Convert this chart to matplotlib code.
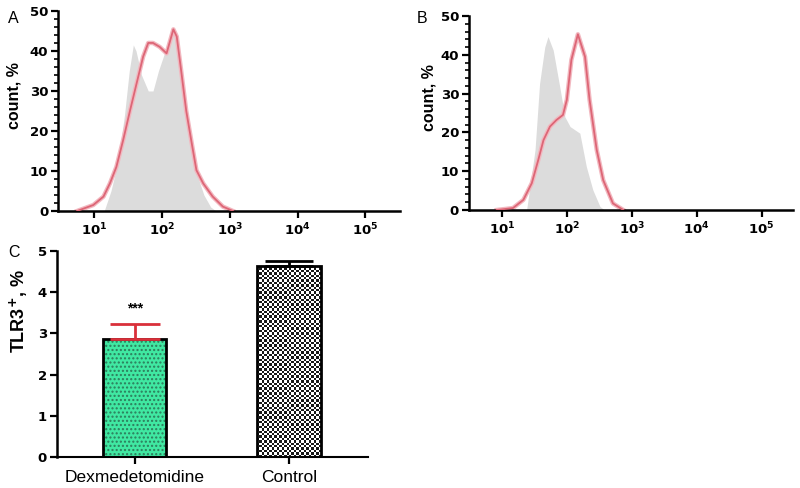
import numpy as np
import matplotlib
matplotlib.use("Agg")
import matplotlib.pyplot as plt
from matplotlib.ticker import MultipleLocator, NullLocator

plt.rcParams['font.family'] = ['Liberation Sans', 'DejaVu Sans']
plt.rcParams['mathtext.fontset'] = 'dejavusans'

# --- data (x as log10 of fluorescence) ---
a_red_log = [0.75, 0.99, 1.14, 1.235, 1.33, 1.43, 1.53, 1.63, 1.725, 1.80, 1.87, 1.97,
             2.07, 2.17, 2.22, 2.29, 2.36, 2.44, 2.51, 2.61, 2.75, 2.90, 3.05]
a_red_cnt = [0, 1.5, 3.6, 6.9, 11, 17.7, 25, 32, 38.6, 42, 42, 41,
             39.4, 45.4, 43.6, 34.4, 25, 17, 10.2, 6.9, 3.6, 1.1, 0]
a_gray_log = [1.15, 1.25, 1.35, 1.45, 1.52, 1.58, 1.62, 1.70, 1.80, 1.87, 1.95, 2.05,
              2.15, 2.20, 2.28, 2.36, 2.44, 2.52, 2.62, 2.72, 2.80]
a_gray_cnt = [0, 5, 12, 24, 35, 41.5, 40, 34, 30, 30, 35, 40,
              45, 44, 35, 25, 16, 9, 4, 1, 0]

b_red_log = [0.92, 1.17, 1.33, 1.46, 1.56, 1.64, 1.74, 1.84, 1.94, 2.00, 2.07, 2.17,
             2.28, 2.35, 2.46, 2.56, 2.71, 2.87]
b_red_cnt = [0, 0.5, 2.6, 6.9, 12.9, 18, 21.5, 23.2, 24.5, 28.4, 38.7, 45.3,
             39.5, 28.4, 15.5, 7.7, 1.7, 0]
b_gray_log = [1.38, 1.51, 1.58, 1.66, 1.71, 1.79, 1.89, 1.97, 2.05, 2.20, 2.30, 2.40, 2.51, 2.58]
b_gray_cnt = [0, 15.5, 32.6, 42, 44.7, 41.2, 31.8, 24, 21.5, 19.8, 11.2, 5.2, 0.9, 0]

groups = ['Dexmedetomidine', 'Control']
tlr3 = [2.87, 4.64]
tlr3_err = [0.35, 0.12]

decades = [1, 2, 3, 4, 5]

RED = '#dd6676'
GRAY = '#dcdcdc'
TICKFONT = dict(family='DejaVu Sans', weight='bold', size=9.5)

fig = plt.figure(figsize=(8, 4.88), dpi=100)


def style_hist(ax, xlim, label_xy):
    ax.set_xscale('log')
    ax.set_xlim(*xlim)
    ax.set_ylim(0, 50)
    ax.set_xticks([10.0 ** d for d in decades])
    ax.set_xticklabels([r'$\mathbf{10^{%d}}$' % d for d in decades], fontsize=9.5)
    ax.xaxis.set_minor_locator(NullLocator())
    ax.yaxis.set_major_locator(MultipleLocator(10))
    ax.yaxis.set_minor_locator(MultipleLocator(2))
    for lab in ax.get_yticklabels():
        lab.set_fontproperties(TICKFONT)
    ax.set_ylabel('count, %', fontsize=11.5, fontweight='bold')
    ax.yaxis.set_label_coords(*label_xy)
    for s in ['top', 'right']:
        ax.spines[s].set_visible(False)
    for s in ['left', 'bottom']:
        ax.spines[s].set_linewidth(1.8)
    ax.tick_params(which='major', length=5, width=1.6, pad=2)
    ax.tick_params(which='minor', length=3, width=1.2)
    ax.tick_params(axis='x', pad=3)


def draw_hist(ax, glog, gcnt, rlog, rcnt):
    gx = 10.0 ** np.array(glog)
    rx = 10.0 ** np.array(rlog)
    ax.fill_between(gx, 0, gcnt, color=GRAY, lw=0, zorder=1)
    ax.plot(rx, rcnt, color='#f2b8c0', lw=3.2, zorder=2, solid_joinstyle='round')
    ax.plot(rx, rcnt, color=RED, lw=1.3, zorder=3, solid_joinstyle='round')


axA = fig.add_axes([0.0725, 0.5676, 0.4275, 0.41])
draw_hist(axA, a_gray_log, a_gray_cnt, a_red_log, a_red_cnt)
style_hist(axA, (10 ** 0.47, 10 ** 5.51), (-0.108, 0.575))

axB = fig.add_axes([0.586, 0.5697, 0.405, 0.3975])
draw_hist(axB, b_gray_log, b_gray_cnt, b_red_log, b_red_cnt)
style_hist(axB, (10 ** 0.49, 10 ** 5.48), (-0.099, 0.577))

# --- panel C ---
axC = fig.add_axes([0.071, 0.0635, 0.389, 0.422])
xpos = np.arange(len(groups))
w = 0.41

# green dotted bar
plt.rcParams['hatch.linewidth'] = 1.0
axC.bar(xpos[0], tlr3[0], width=w, color='#40e8a2', edgecolor='#2d7d5c',
        hatch='....', linewidth=0, zorder=2)
# checkerboard bar: texture clipped to the bar
ctrl = axC.bar(xpos[1], tlr3[1], width=w, color='white', linewidth=0, zorder=2)[0]
nx, ny = 26, 80
ii, jj = np.indices((ny, nx))
checker = ((ii + jj) % 2).astype(float)
img = axC.imshow(checker, cmap='gray', vmin=-0.1, vmax=1.0, interpolation='nearest',
                 aspect='auto',
                 extent=(ctrl.get_x(), ctrl.get_x() + ctrl.get_width(), 0, tlr3[1]),
                 zorder=2.5)
img.set_clip_path(ctrl)
axC.set_aspect('auto')
axC.set_xlim(-0.506, 1.513)
axC.set_ylim(0, 5)

# outlines
axC.bar(xpos, tlr3, width=w, fill=False, edgecolor='black', linewidth=2, zorder=3)

# error bars (upper only)
axC.errorbar(xpos[0], tlr3[0], yerr=[[0], [tlr3_err[0]]], fmt='none', ecolor='#d9303a',
             elinewidth=2, capsize=18, capthick=2, zorder=4)
axC.errorbar(xpos[1], tlr3[1], yerr=[[0], [tlr3_err[1]]], fmt='none', ecolor='black',
             elinewidth=2, capsize=17, capthick=2, zorder=4)
axC.text(xpos[0], tlr3[0] + tlr3_err[0] + 0.38, '***', ha='center', va='center',
         fontsize=10, fontweight='bold')

axC.set_xticks(xpos)
axC.set_xticklabels(groups, fontsize=12.5)
axC.yaxis.set_major_locator(MultipleLocator(1))
for lab in axC.get_yticklabels():
    lab.set_fontproperties(TICKFONT)
axC.set_ylabel(r'TLR3$^{\mathbf{+}}$, %', fontsize=13, fontweight='bold')
axC.yaxis.set_label_coords(-0.087, 0.71)
for s in ['top', 'right']:
    axC.spines[s].set_visible(False)
axC.spines['left'].set_linewidth(1.8)
axC.spines['bottom'].set_linewidth(1.5)
axC.tick_params(which='major', length=5, width=1.6, pad=2)
axC.tick_params(axis='x', pad=4)

fig.text(0.010, 0.962, 'A', fontsize=11.5, va='center')
fig.text(0.521, 0.962, 'B', fontsize=11.5, va='center')
fig.text(0.010, 0.483, 'C', fontsize=11.5, va='center')

fig.savefig('out.png', dpi=100, facecolor='white')
